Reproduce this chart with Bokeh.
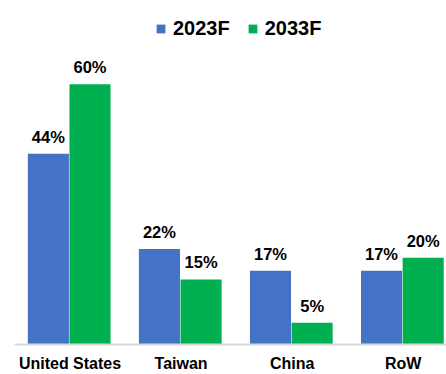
from bokeh.plotting import figure
from bokeh.models import Range1d, FixedTicker, Legend, LegendItem, ColumnDataSource
from bokeh.embed import file_html
from bokeh.resources import INLINE
from bokeh.core.properties import value

regions = ["United States", "Taiwan", "China", "RoW"]
share_2023 = [44, 22, 17, 17]
share_2033 = [60, 15, 5, 20]
series = ["2023F", "2033F"]
colors = ["#4472C4", "#00B050"]

FONT = "Liberation Sans"
idx = list(range(len(regions)))
off_a, off_b, bw = -0.195, 0.18, 0.37

src_a = ColumnDataSource(dict(x=[i + off_a for i in idx], y=share_2023,
                              t=[f"{v}%" for v in share_2023]))
src_b = ColumnDataSource(dict(x=[i + off_b for i in idx], y=share_2033,
                              t=[f"{v}%" for v in share_2033]))

p = figure(width=446, height=374, output_backend="svg", toolbar_location=None,
           x_range=Range1d(-0.5, 3.39), y_range=Range1d(0, 79.3),
           min_border_left=14, min_border_right=0, min_border_top=0, min_border_bottom=27)
p.outline_line_color = None
p.xgrid.visible = False
p.ygrid.visible = False
p.yaxis.visible = False

r1 = p.vbar(x="x", top="y", width=bw, source=src_a, color=colors[0], line_color=None)
r2 = p.vbar(x="x", top="y", width=bw, source=src_b, color=colors[1], line_color=None)

for s in (src_a, src_b):
    p.text(x="x", y="y", text="t", source=s, text_align="center", text_baseline="bottom",
           y_offset=-8, text_font=value(FONT), text_font_size="16.5px",
           text_font_style="bold", text_color="black")

ax = p.xaxis[0]
ax.ticker = FixedTicker(ticks=idx)
ax.major_label_overrides = {i: r for i, r in zip(idx, regions)}
ax.major_tick_out = 0
ax.major_tick_in = 0
ax.minor_tick_out = 0
ax.minor_tick_in = 0
ax.axis_line_color = "#D9D9D9"
ax.axis_line_width = 2
ax.major_label_standoff = 10
ax.major_label_text_font = FONT
ax.major_label_text_font_size = "16px"
ax.major_label_text_font_style = "bold"
ax.major_label_text_color = "black"

legend = Legend(items=[LegendItem(label=series[0], renderers=[r1]),
                       LegendItem(label=series[1], renderers=[r2])],
                orientation="horizontal", location=(141, 304))
legend.border_line_color = None
legend.background_fill_alpha = 0
legend.padding = 0
legend.margin = 0
legend.spacing = 17
legend.glyph_width = 11
legend.glyph_height = 11
legend.label_standoff = 7
legend.label_text_font = FONT
legend.label_text_font_size = "20px"
legend.label_text_font_style = "bold"
legend.label_text_color = "black"
p.add_layout(legend)

open("out.html", "w").write(file_html(p, INLINE))
